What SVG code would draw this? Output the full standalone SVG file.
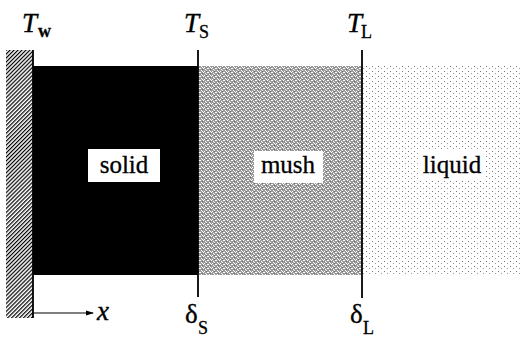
<svg xmlns="http://www.w3.org/2000/svg" width="521" height="338" viewBox="0 0 521 338">
<style>
.t{font-family:"Liberation Serif","Times New Roman",serif;fill:#000}
.lab{font-size:25px;stroke:#000;stroke-width:0.3}
.it{font-style:italic;font-size:27px;stroke:#000;stroke-width:0.4}
.sub{font-size:18px;stroke:#000;stroke-width:0.3}
.ln{stroke:#000;stroke-width:1.8;fill:none}
</style>
<defs>
<pattern id="hatch" width="2.8" height="2.8" patternUnits="userSpaceOnUse" patternTransform="rotate(45)">
<rect width="2.8" height="2.8" fill="#fff"/>
<rect x="0" y="0" width="1.2" height="2.8" fill="#000"/>
</pattern>
<pattern id="mushp" width="8" height="4" patternUnits="userSpaceOnUse">
<rect width="8" height="4" fill="#9a9a9a"/>
<rect x="0" y="0" width="1" height="1" fill="#fff"/>
<rect x="3" y="0" width="1" height="1" fill="#fff"/>
<rect x="5" y="1" width="1" height="1" fill="#fff"/>
<rect x="1" y="2" width="1" height="1" fill="#fff"/>
<rect x="6" y="2" width="1" height="1" fill="#fff"/>
<rect x="2" y="3" width="1" height="1" fill="#fff"/>
<rect x="4" y="3" width="1" height="1" fill="#fff"/>
<rect x="7" y="0" width="1" height="1" fill="#fff"/>
<rect x="2" y="1" width="1" height="1" fill="#666"/>
<rect x="6" y="3" width="1" height="1" fill="#666"/>
</pattern>
<pattern id="liqp" width="6" height="5" patternUnits="userSpaceOnUse">
<rect width="6" height="5" fill="#fff"/>
<rect x="0" y="1" width="1" height="1" fill="#777"/>
<rect x="3" y="3" width="1" height="1" fill="#999"/>
</pattern>
<marker id="arr" markerWidth="8" markerHeight="6" refX="7" refY="3" orient="auto" markerUnits="userSpaceOnUse">
<path d="M0,0.5 L8,3 L0,5.5 Z" fill="#000"/>
</marker>
</defs>
<g id="wall">
<rect x="6" y="50" width="27" height="268" fill="url(#hatch)"/>
</g>
<g id="solid">
<rect x="33" y="66" width="165" height="209" fill="#000"/>
<rect x="88" y="149" width="72" height="33" fill="#fff"/>
<text class="t lab" x="124" y="173" text-anchor="middle">solid</text>
</g>
<g id="mush">
<rect x="198" y="66" width="164" height="209" fill="url(#mushp)"/>
<rect x="254" y="151" width="69" height="32" fill="#fff"/>
<text class="t lab" x="288" y="173" text-anchor="middle">mush</text>
</g>
<g id="liquid">
<rect x="362" y="66" width="159" height="209" fill="url(#liqp)"/>
<rect x="420" y="151" width="64" height="30" fill="#fff"/>
<text class="t lab" x="452" y="173" text-anchor="middle">liquid</text>
</g>
<g id="connectors">
<line class="ln" x1="33" y1="50" x2="33" y2="318"/>
<line class="ln" x1="198" y1="50" x2="198" y2="297"/>
<line class="ln" x1="362" y1="50" x2="362" y2="298"/>
<line x1="33" y1="313" x2="93" y2="313" stroke="#000" stroke-width="1.2" marker-end="url(#arr)"/>
</g>
<g id="labels">
<text class="t it" x="22" y="32">T</text><text class="t sub" x="38" y="37" font-weight="bold">w</text>
<text class="t it" x="184" y="32">T</text><text class="t sub" x="199" y="38">S</text>
<text class="t it" x="347" y="32">T</text><text class="t sub" x="361" y="38">L</text>
<text class="t it" x="97" y="320">x</text>
<text class="t" x="185" y="323" font-size="27" stroke="#000" stroke-width="0.3">δ</text><text class="t sub" x="198" y="334">S</text>
<text class="t" x="350" y="323" font-size="27" stroke="#000" stroke-width="0.3">δ</text><text class="t sub" x="363" y="334">L</text>
</g>
</svg>
